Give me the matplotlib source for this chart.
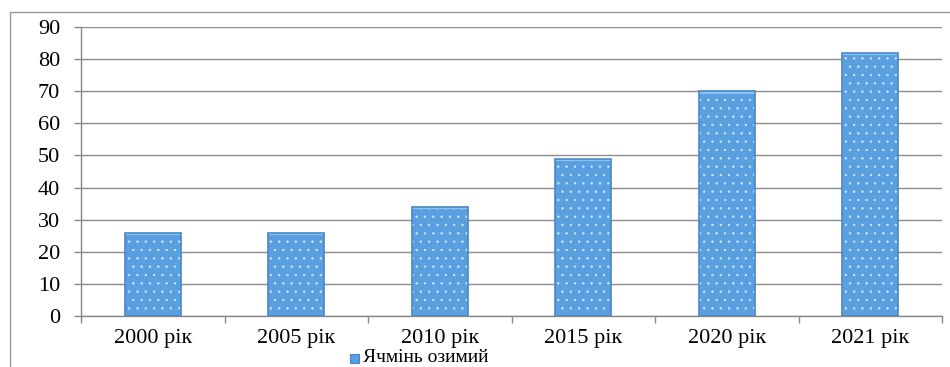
import matplotlib.pyplot as plt
from matplotlib.patches import Rectangle

# Winter barley, by year
years = ['2000 рік', '2005 рік', '2010 рік', '2015 рік', '2020 рік', '2021 рік']
values = [26, 26, 34, 49, 70, 82]
series_name = 'Ячмінь озимий'

plt.rcParams['font.family'] = ['Liberation Serif', 'DejaVu Serif']
plt.rcParams['hatch.linewidth'] = 0.5

fig = plt.figure(figsize=(9.5, 3.67), dpi=100)
W, H = 950, 367
ax = fig.add_axes([81 / W, 1 - 316 / H, (942 - 81) / W, (316 - 27) / H])

x = range(len(years))
# base fill with white dot pattern
ax.bar(x, values, width=0.39, color='#5a9fe0', edgecolor='#cfe6ff', linewidth=0,
       hatch='..', zorder=3)
# lighter top strip
ax.bar(x, [0.8] * len(values), bottom=[v - 0.8 for v in values], width=0.39,
       color='#8cc3f5', linewidth=0, zorder=4)
# darker outline around each bar
ax.bar(x, values, width=0.39, fill=False, edgecolor='#4a86c5', linewidth=1.2, zorder=5)

ax.set_xlim(-0.5, len(years) - 0.5)
ax.set_ylim(0, 90)
ax.set_yticks(range(0, 91, 10))
ax.set_xticks(x)
ax.set_xticklabels(years)
ax.set_xticks([i + 0.5 for i in range(-1, len(years))], minor=True)
ax.tick_params(axis='x', which='major', length=0, pad=9, labelsize=16)
ax.tick_params(axis='x', which='minor', length=5, color='#888888', width=1)
ax.tick_params(axis='y', length=5, color='#888888', width=1, pad=10, labelsize=16)
ax.yaxis.grid(True, color='#8c8c8c', linewidth=1, zorder=0)
for side in ['top', 'right']:
    ax.spines[side].set_visible(False)
for side in ['left', 'bottom']:
    ax.spines[side].set_color('#888888')
    ax.spines[side].set_linewidth(1)

# outer chart border
fig.patches.append(Rectangle((10 / W, -0.1), 1.0, 1 - 12 / H + 0.1, transform=fig.transFigure,
                             fill=False, edgecolor='#999999', linewidth=1))

# legend below the axis
fig.patches.append(Rectangle((350 / W, 1 - 363 / H), 9 / W, 9 / H, transform=fig.transFigure,
                             facecolor='#5a9fe0', edgecolor='#4a86c5', linewidth=0.8))
fig.text(363 / W, 1 - 358 / H, series_name, fontsize=14, va='center', ha='left')

fig.savefig('out.png', dpi=100)
